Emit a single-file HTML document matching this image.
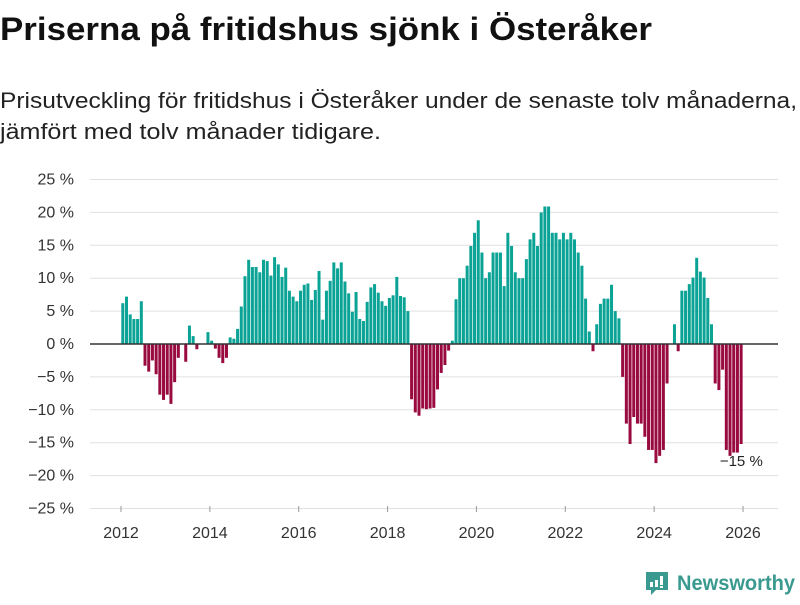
<!DOCTYPE html>
<html><head><meta charset="utf-8"><style>
body{margin:0;background:#fff;width:800px;height:600px;overflow:hidden;font-family:"Liberation Sans",sans-serif}
</style></head><body>
<svg id="c" width="800" height="600" xmlns="http://www.w3.org/2000/svg">
<text x="0" y="40" font-size="32" font-weight="bold" fill="#111" textLength="652" lengthAdjust="spacingAndGlyphs">Priserna på fritidshus sjönk i Österåker</text>
<text x="0" y="108" font-size="22" fill="#222" textLength="797" lengthAdjust="spacingAndGlyphs">Prisutveckling för fritidshus i Österåker under de senaste tolv månaderna,</text>
<text x="0" y="139" font-size="22" fill="#222" textLength="381" lengthAdjust="spacingAndGlyphs">jämfört med tolv månader tidigare.</text>
<g id="grid"></g><g id="bars"></g><g id="axes"></g>
<g>
<path d="M646 572 h22 v18 h-12 l-5 5 v-5 h-5 z" fill="#3a9a8f"/>
<rect x="650" y="582" width="3" height="5" fill="#fff"/><rect x="655" y="580" width="3" height="7" fill="#fff"/><rect x="660" y="576" width="3" height="9" fill="#fff"/><rect x="660" y="586" width="3" height="2" fill="#fff"/>
<text x="677" y="590" font-size="21" font-weight="bold" fill="#3a9a8f" textLength="118" lengthAdjust="spacingAndGlyphs">Newsworthy</text>
</g>
</svg>
<script>
const startYear = 2012;
const values = [
6.2,7.2,4.5,3.8,3.8,6.5,-3.3,-4.2,-2.5,-4.6,-7.7,-8.5,
-7.7,-9.1,-5.8,-2.1,0,-2.7,2.8,1.2,-0.8,0,0,1.8,
0.5,-0.7,-2.1,-2.9,-2.1,1.0,
0.8,2.3,5.7,10.3,12.8,11.7,11.7,10.9,12.8,12.6,10.4,13.2,12.1,10.2,11.6,8.1,7.2,6.5,8.1,9.0,9.2,6.7,8.2,11.1,3.7,8.1,9.6,12.4,11.5,12.4,9.5,7.7,4.9,7.9,3.8,3.5,6.4,8.6,9.1,7.8,6.5,5.8,7.0,7.4,10.2,7.3,7.1,5.0,
-8.4,-10.4,-10.9,-9.8,-9.9,-9.8,-9.7,-6.9,-4.4,-3.2,-1.0,
0.5,
6.8,10,10,11.9,14.9,16.9,18.8,13.9,10,10.9,13.9,13.9,13.9,8.8,16.9,14.9,10.9,10,10,12.9,15.9,16.9,14.9,20,20.9,20.9,16.9,16.9,15.9,16.9,15.9,16.9,15.9,13.9,11.9,6.9,1.9,
-1.1,
3.0,6.1,6.9,6.9,9.0,5.0,3.9,-5.0,-12.1,-15.2,-11.1,-12.1,-12.1,-14.1,-16.1,-16.1,-18.1,-17.0,-16.1,-6.0,0,3.0,-1.1,8.1,8.1,9.1,10.1,13.1,11.0,10.1,7.0,3.0,-6.0,-7.0,-3.9,-16.1,-17.0,-16.5,-16.5,-15.2
];
const yTicks = [25,20,15,10,5,0,-5,-10,-15,-20,-25];
const xTicks = [2012,2014,2016,2018,2020,2022,2024,2026];
const lastLabel = "\u221215 %";
const NS="http://www.w3.org/2000/svg";
const xs = yr => 121 + (yr-2012)*44.43;
const ys = v => 344 - v*6.58;
function mk(tag,attrs,parent,txt){const e=document.createElementNS(NS,tag);for(const k in attrs)e.setAttribute(k,attrs[k]);if(txt!==undefined)e.textContent=txt;document.getElementById(parent).appendChild(e);return e;}
yTicks.forEach(t=>{
  if(t!==0){const l=mk('line',{x1:90,x2:778,y1:ys(t),y2:ys(t),stroke:'#e0e0e0','stroke-width':1},'grid');
  
  }
  const tx=mk('text',{x:74,y:ys(t)+5,'text-anchor':'end','font-size':16,fill:'#333'},'axes',(t<0?'\u2212'+(-t):t)+' %');
  
  
});
xTicks.forEach(t=>{
  const tk=mk('line',{x1:xs(t),x2:xs(t),y1:506,y2:512,stroke:'#999'},'axes');
  
  
  const tx=mk('text',{x:xs(t),y:538,'text-anchor':'middle','font-size':16,fill:'#333'},'axes',t);
  
  
});
const w=44.43/12;
values.forEach((v,i)=>{
  if(v===0)return;
  const x=xs(startYear+i/12);
  const y0=ys(0), y1=ys(v);
  const r=mk('rect',{x:x+0.3,width:w-0.7,y:Math.min(y0,y1),height:Math.abs(y1-y0),fill:v>=0?'#0aa396':'#990a3f'},'bars');
  
  
});
const z=mk('line',{x1:90,x2:778,y1:ys(0),y2:ys(0),stroke:'#333','stroke-width':1.5},'axes');


const li=values.length-1;
const lb=mk('text',{x:xs(startYear+li/12)+2,y:ys(values[li])+22,'text-anchor':'middle','font-size':15,fill:'#222'},'axes',lastLabel);


</script>
</body></html>
